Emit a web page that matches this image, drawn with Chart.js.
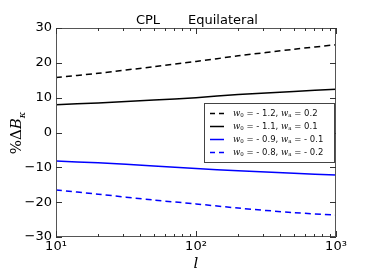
<!DOCTYPE html>
<html>
<head>
<meta charset="utf-8">
<script src="https://cdn.jsdelivr.net/npm/chart.js@4"></script>
<style>
  html, body { margin: 0; padding: 0; background: #fff; }
  #wrap { width: 374px; height: 280px; }
</style>
</head>
<body>
<div id="wrap"><canvas id="c" width="374" height="280"></canvas></div>
<script>
// multipoles and % deviation of the convergence bispectrum
const ells = [10, 20, 50, 100, 200, 500, 1000];
const w12 = [15.8, 17.0, 18.9, 20.4, 22.0, 23.9, 25.2];   // w0=-1.2, wa=0.2
const w11 = [8.0, 8.5, 9.3, 10.0, 10.9, 11.8, 12.4];      // w0=-1.1, wa=0.1
const w09 = [-8.2, -8.7, -9.6, -10.3, -11.0, -11.7, -12.2]; // w0=-0.9, wa=-0.1
const w08 = [-16.5, -17.7, -19.4, -20.5, -21.7, -23.0, -23.7]; // w0=-0.8, wa=-0.2
const legendW0 = ['- 1.2', '- 1.1', '- 0.9', '- 0.8'];
const legendWa = ['0.2', '0.1', '- 0.1', '- 0.2'];
const yTicks = [-30, -20, -10, 0, 10, 20, 30];
const xTicks = [10, 100, 1000];

const sans = 'DejaVu Sans';
const serif = 'DejaVu Serif';

const mk = (vals, color, dash) => ({
  data: ells.map((l, i) => ({ x: l, y: vals[i] })),
  borderColor: color,
  borderWidth: 1.5,
  borderDash: dash,
  pointRadius: 0,
  fill: false,
  tension: 0.3
});

const sup = { 1: '\u00b9', 2: '\u00b2', 3: '\u00b3' };

// matplotlib-ish frame, ticks, legend and labels
const decor = {
  id: 'decor',
  afterDatasetsDraw(chart) {
    const { ctx, chartArea: a, scales: { x, y } } = chart;
    ctx.save();
    ctx.strokeStyle = '#555';
    ctx.lineWidth = 1;
    ctx.strokeRect(a.left + 0.5, a.top + 0.5, a.right - a.left - 1, a.bottom - a.top - 1);

    ctx.strokeStyle = '#333';
    ctx.beginPath();
    // x ticks, major and minor, bottom and top
    for (let dec = 10; dec < 1000; dec *= 10) {
      for (let k = 1; k <= 10; k++) {
        const v = dec * k;
        if (v > 1000) continue;
        const px = Math.round(x.getPixelForValue(v)) + 0.5;
        const len = (k === 1 || k === 10) ? 6 : 3;
        ctx.moveTo(px, a.bottom); ctx.lineTo(px, a.bottom - len);
        ctx.moveTo(px, a.top); ctx.lineTo(px, a.top + len);
      }
    }
    // y ticks left and right
    yTicks.forEach(v => {
      const py = Math.round(y.getPixelForValue(v)) + 0.5;
      ctx.moveTo(a.left, py); ctx.lineTo(a.left + 6, py);
      ctx.moveTo(a.right, py); ctx.lineTo(a.right - 6, py);
    });
    ctx.stroke();

    // legend box
    const lx = 204, ly = 103, lw = 130, lh = 59;
    ctx.fillStyle = '#fff';
    ctx.fillRect(lx, ly, lw, lh);
    ctx.strokeStyle = '#444';
    ctx.strokeRect(lx + 0.5, ly + 0.5, lw, lh);
    const styles = [['#000', [5, 4]], ['#000', []], ['#0000ff', []], ['#0000ff', [5, 4]]];
    styles.forEach((s, i) => {
      const yy = ly + 10.5 + i * 13;
      ctx.strokeStyle = s[0];
      ctx.lineWidth = 1.5;
      ctx.setLineDash(s[1]);
      ctx.beginPath();
      ctx.moveTo(lx + 6, yy); ctx.lineTo(lx + 20, yy);
      ctx.stroke();
      ctx.setLineDash([]);
      ctx.fillStyle = '#111';
      ctx.textBaseline = 'middle';
      ctx.textAlign = 'left';
      let tx = lx + 29;
      const put = (t, f, dy) => {
        ctx.font = f;
        ctx.fillText(t, tx, yy + (dy || 0));
        tx += ctx.measureText(t).width;
      };
      put('w', 'italic 8.5px ' + serif);
      put('0', '5.5px ' + serif, 2);
      put(' = ' + legendW0[i] + ', ', '8.5px ' + sans);
      put('w', 'italic 8.5px ' + serif);
      put('a', '5.5px ' + serif, 2);
      put(' = ' + legendWa[i], '8.5px ' + sans);
    });

    // title
    ctx.fillStyle = '#000';
    ctx.font = '13px ' + sans;
    ctx.textAlign = 'center';
    ctx.textBaseline = 'alphabetic';
    ctx.fillText('CPL', 148, 24);
    ctx.fillText('Equilateral', 223, 24);

    // x label
    ctx.font = 'italic 15px ' + serif;
    ctx.fillText('l', 196, 268);

    // y label
    ctx.translate(21, 133);
    ctx.rotate(-Math.PI / 2);
    ctx.textAlign = 'left';
    ctx.font = '15px ' + serif;
    const w1 = ctx.measureText('%\u0394').width;
    ctx.font = 'italic 15px ' + serif;
    const w2 = ctx.measureText('B').width;
    ctx.font = 'italic 10px ' + serif;
    const w3 = ctx.measureText('\u03ba').width;
    let sx = -(w1 + w2 + w3) / 2;
    ctx.font = '15px ' + serif;
    ctx.fillText('%\u0394', sx, 0); sx += w1;
    ctx.font = 'italic 15px ' + serif;
    ctx.fillText('B', sx, 0); sx += w2;
    ctx.font = 'italic 10px ' + serif;
    ctx.fillText('\u03ba', sx, 4);
    ctx.restore();
  }
};

new Chart(document.getElementById('c'), {
  type: 'line',
  data: {
    datasets: [
      mk(w12, '#000', [6, 4]),
      mk(w11, '#000', []),
      mk(w09, '#0000ff', []),
      mk(w08, '#0000ff', [6, 4])
    ]
  },
  options: {
    responsive: false,
    animation: false,
    layout: { padding: { top: 28, right: 38, left: 0, bottom: 0 } },
    plugins: { legend: { display: false }, tooltip: { enabled: false } },
    scales: {
      x: {
        type: 'logarithmic',
        min: 10, max: 1000,
        afterBuildTicks: s => { s.ticks = xTicks.map(v => ({ value: v })); },
        afterFit: s => { s.height = 43; },
        grid: { display: false, drawTicks: false },
        border: { display: false },
        ticks: {
          color: '#000',
          padding: 2,
          maxRotation: 0,
          autoSkip: false,
          font: { family: sans, size: 13 },
          callback: v => '10' + sup[Math.round(Math.log10(v))]
        }
      },
      y: {
        min: -30, max: 30,
        afterBuildTicks: s => { s.ticks = yTicks.map(v => ({ value: v })); },
        afterFit: s => { s.width = 56; },
        grid: { display: false, drawTicks: false },
        border: { display: false },
        ticks: {
          color: '#000',
          padding: 4,
          font: { family: sans, size: 13 },
          callback: v => v < 0 ? '\u2212' + Math.abs(v) : '' + v
        }
      }
    }
  },
  plugins: [decor]
});
</script>
</body>
</html>
